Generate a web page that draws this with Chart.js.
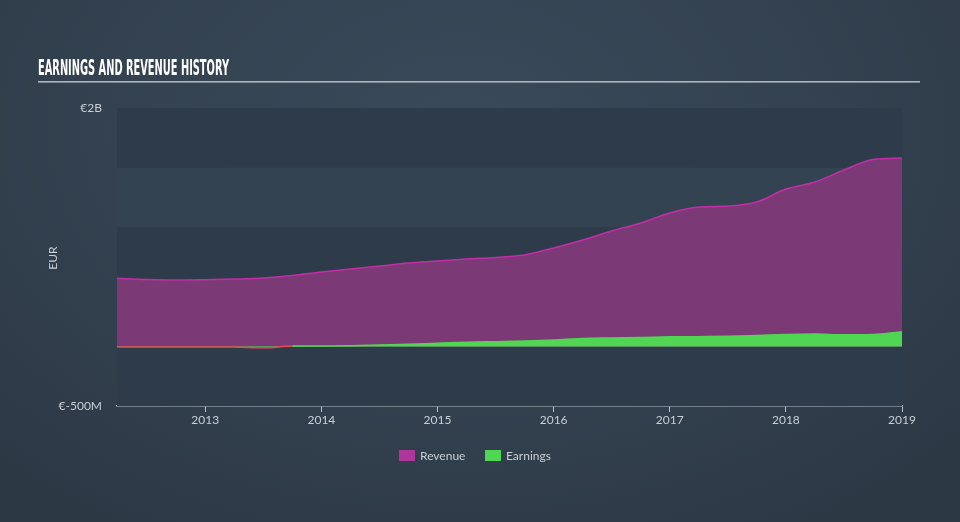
<!DOCTYPE html>
<html>
<head>
<meta charset="utf-8">
<script src="https://cdn.jsdelivr.net/npm/chart.js@4/dist/chart.umd.min.js"></script>
<style>
html,body{margin:0;padding:0;width:960px;height:522px;overflow:hidden;}
body{background:radial-gradient(ellipse 70% 90% at 48% 25%, #3a4a5a 0%, #334150 55%, #2d3845 100%);}
#wrap{position:relative;width:960px;height:522px;}
</style>
</head>
<body>
<div id="wrap"><canvas id="c" width="960" height="522"></canvas></div>
<script>
// Quarter-end dates as decimal years
const periods = [2012.24,2012.5,2012.75,2013.0,2013.25,2013.5,2013.75,2014.0,2014.25,2014.5,2014.75,2015.0,2015.25,2015.5,2015.75,2016.0,2016.25,2016.5,2016.75,2017.0,2017.25,2017.5,2017.75,2018.0,2018.25,2018.5,2018.75,2019.0];
// Values in EUR billions
const revenue = [0.571,0.561,0.557,0.560,0.565,0.574,0.595,0.624,0.649,0.674,0.700,0.716,0.733,0.746,0.767,0.826,0.893,0.968,1.035,1.119,1.169,1.178,1.211,1.320,1.379,1.480,1.568,1.580];
const earnings = [-0.004,-0.004,-0.006,-0.004,-0.005,-0.012,0.003,0.004,0.006,0.012,0.018,0.027,0.035,0.040,0.045,0.053,0.067,0.071,0.074,0.080,0.082,0.085,0.092,0.100,0.103,0.097,0.100,0.123];
const yearTicks = [2013,2014,2015,2016,2017,2018,2019];
const yTicks = [-0.5,0,0.5,1,1.5,2];
const yLabels = {"2":"€2B","-0.5":"€-500M"};
const seriesNames = ["Revenue","Earnings"];

const REV_FILL = '#7b3a76', REV_LINE = '#c22ea6', REV_SWATCH = '#b0369c';
const EARN_FILL = '#50d652', EARN_NEG = '#e8485a';
const TXT = '#c9cfd5';
const FONT = 'Lato, "Open Sans", sans-serif';

const bandsPlugin = {
  id:'bands',
  beforeDatasetsDraw(chart){
    const {ctx, chartArea:a, scales:{y}} = chart;
    ctx.save();
    for(let i=0;i<yTicks.length-1;i++){
      const top = y.getPixelForValue(yTicks[i+1]);
      const bot = y.getPixelForValue(yTicks[i]);
      ctx.fillStyle = (i%2===0) ? '#2e3b4a' : '#344352';
      ctx.fillRect(a.left, top, a.right-a.left, bot-top);
    }
    ctx.restore();
  }
};

const decorPlugin = {
  id:'decor',
  afterDraw(chart){
    const ctx = chart.ctx;
    ctx.save();
    // Title
    ctx.fillStyle = '#ffffff';
    ctx.font = 'bold 21px "Liberation Sans Narrow", "DejaVu Sans Condensed", sans-serif';
    ctx.textBaseline = 'alphabetic';
    const t = 'EARNINGS AND REVENUE HISTORY';
    const w = ctx.measureText(t).width;
    ctx.translate(38, 74.5);
    ctx.scale(191/w, 1);
    ctx.fillText(t, 0, 0);
    ctx.setTransform(1,0,0,1,0,0);
    // underline
    ctx.fillStyle = '#aeb4bb';
    ctx.fillRect(38, 81, 882, 1.6);
    // EUR axis title
    ctx.fillStyle = TXT;
    ctx.font = '12px ' + FONT;
    ctx.textAlign = 'center';
    ctx.textBaseline = 'middle';
    ctx.translate(53, 258);
    ctx.rotate(-Math.PI/2);
    ctx.fillText('EUR', 0, 0);
    ctx.setTransform(1,0,0,1,0,0);
    // Legend
    ctx.textAlign = 'left';
    ctx.font = '12px ' + FONT;
    ctx.fillStyle = REV_SWATCH;
    ctx.fillRect(399, 450, 16, 11);
    ctx.fillStyle = TXT;
    ctx.fillText(seriesNames[0], 420, 456);
    ctx.fillStyle = EARN_FILL;
    ctx.fillRect(485, 450, 16, 11);
    ctx.fillStyle = TXT;
    ctx.fillText(seriesNames[1], 506, 456);
    ctx.restore();
  }
};

const toPts = arr => arr.map((v,i)=>({x:periods[i], y:v}));

new Chart(document.getElementById('c'), {
  type:'line',
  data:{
    datasets:[
      {label:seriesNames[0], data:toPts(revenue), borderColor:REV_LINE, borderWidth:1.5, backgroundColor:REV_FILL, fill:'origin', pointRadius:0, cubicInterpolationMode:'monotone', order:2},
      {label:seriesNames[1], data:toPts(earnings), borderColor:EARN_FILL, borderWidth:1.5, backgroundColor:EARN_FILL, fill:'origin', pointRadius:0, cubicInterpolationMode:'monotone', order:1,
        segment:{borderColor: c => (c.p0.parsed.y<0||c.p1.parsed.y<0) ? EARN_NEG : EARN_FILL}}
    ]
  },
  options:{
    responsive:false, animation:false, devicePixelRatio:1,
    layout:{padding:{left:0, top:108, right:58, bottom:0}},
    plugins:{legend:{display:false}, tooltip:{enabled:false}},
    scales:{
      x:{type:'linear', min:periods[0], max:2019.0,
        afterBuildTicks: s => { s.ticks = yearTicks.map(v=>({value:v})); },
        afterFit: s => { s.height = 116; },
        grid:{display:true, drawOnChartArea:false, drawTicks:true, tickLength:6, color:'#b5bfca', lineWidth:1},
        border:{display:true, color:'#b5bfca', width:1.5},
        ticks:{color:TXT, font:{family:FONT, size:12}, padding:1, maxRotation:0, autoSkip:false, callback:v=>String(v)}
      },
      y:{type:'linear', min:-0.5, max:2, z:1,
        afterBuildTicks: s => { s.ticks = yTicks.map(v=>({value:v})); },
        afterFit: s => { s.width = 117; },
        grid:{drawTicks:false, color: c => (c.tick && c.tick.value===0) ? 'rgba(220,210,170,0.8)' : 'rgba(0,0,0,0)', lineWidth:1.2},
        border:{display:false},
        ticks:{color:TXT, font:{family:FONT, size:12}, padding:15, autoSkip:false, callback:v=> yLabels[String(v)] || ''}
      }
    }
  },
  plugins:[bandsPlugin, decorPlugin]
});
</script>
</body>
</html>
